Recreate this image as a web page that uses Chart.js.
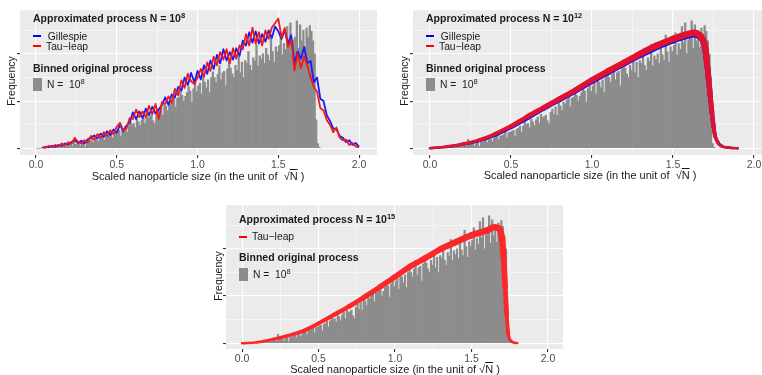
<!DOCTYPE html>
<html>
<head>
<meta charset="utf-8">
<script src="https://cdn.jsdelivr.net/npm/chart.js@4.4.1/dist/chart.umd.min.js"></script>
<style>
  html, body { margin: 0; padding: 0; background: #fff; }
  body { width: 762px; height: 375px; position: relative; overflow: hidden; }
  .box { position: absolute; }
  .t { position: absolute; font-family: 'Liberation Sans', Arial, sans-serif; white-space: pre; color: #1a1a1a; line-height: 12px; z-index: 5; }
  .ttl { font-weight: bold; font-size: 10.5px; }
  .lab { font-size: 10.3px; }
  .sup { font-size: 7.5px; position: relative; top: -4px; }
  .axt { font-size: 11px; transform: translateX(-50%); }
  .yt { font-size: 10.5px; transform: translate(-50%, -50%) rotate(-90deg); }
  .key { position: absolute; z-index: 5; }
  .ov { text-decoration: overline; }
</style>
</head>
<body>
<div class="box" style="left:0;top:0;width:380px;height:190px"><canvas id="c1"></canvas></div>
<div class="box" style="left:393px;top:0;width:400px;height:190px"><canvas id="c2"></canvas></div>
<div class="box" style="left:206px;top:195px;width:360px;height:180px"><canvas id="c3"></canvas></div>

<!-- panel 1 legend -->
<div class="t ttl" style="left:33px;top:12px">Approximated process N = 10<span class="sup">8</span></div>
<div class="key" style="left:33px;top:35px;width:8px;height:2px;background:#0000ff"></div>
<div class="t lab" style="left:45px;top:31px"> Gillespie</div>
<div class="key" style="left:33px;top:45px;width:8px;height:2px;background:#ff0000"></div>
<div class="t lab" style="left:46px;top:41px">Tau−leap</div>
<div class="t ttl" style="left:33px;top:62px">Binned original process</div>
<div class="key" style="left:33px;top:78px;width:9px;height:13px;background:#8c8c8c"></div>
<div class="t lab" style="left:47px;top:79px">N =  10<span class="sup">8</span></div>
<div class="t axt" style="left:198px;top:170px">Scaled nanoparticle size (in the unit of  √<span class="ov">N</span> )</div>
<div class="t yt" style="left:11px;top:81px">Frequency</div>

<!-- panel 2 legend -->
<div class="t ttl" style="left:426px;top:12px">Approximated process N = 10<span class="sup">12</span></div>
<div class="key" style="left:426px;top:35px;width:8px;height:2px;background:#0000ff"></div>
<div class="t lab" style="left:438px;top:31px"> Gillespie</div>
<div class="key" style="left:426px;top:45px;width:8px;height:2px;background:#ff0000"></div>
<div class="t lab" style="left:439px;top:41px">Tau−leap</div>
<div class="t ttl" style="left:426px;top:62px">Binned original process</div>
<div class="key" style="left:426px;top:78px;width:9px;height:13px;background:#8c8c8c"></div>
<div class="t lab" style="left:440px;top:79px">N =  10<span class="sup">8</span></div>
<div class="t axt" style="left:590px;top:169px">Scaled nanoparticle size (in the unit of  √<span class="ov">N</span> )</div>
<div class="t yt" style="left:404px;top:81px">Frequency</div>

<!-- panel 3 legend -->
<div class="t ttl" style="left:239px;top:213px">Approximated process N = 10<span class="sup">15</span></div>
<div class="key" style="left:239px;top:236px;width:8px;height:2px;background:#ff0000"></div>
<div class="t lab" style="left:252px;top:231px">Tau−leap</div>
<div class="t ttl" style="left:239px;top:251px">Binned original process</div>
<div class="key" style="left:239px;top:268px;width:9px;height:13px;background:#8c8c8c"></div>
<div class="t lab" style="left:253px;top:269px">N =  10<span class="sup">8</span></div>
<div class="t axt" style="left:395px;top:363px">Scaled nanoparticle size (in the unit of √<span class="ov">N</span> )</div>
<div class="t yt" style="left:218px;top:276px">Frequency</div>

<script>
// tick positions (major every 0.5 / 100, minor in between)
const xTicks = [0, 0.25, 0.5, 0.75, 1, 1.25, 1.5, 1.75, 2];
const yTicks = [0, 50, 100, 150, 200, 250];

// binned original process, N = 1e8 (bins of 0.01 starting at 0)
const histStart = 0;
const histStep = 0.01;
const histCounts = [
  0, 0, 0, 1, 1, 1, 1, 2, 2, 2,
  2, 3, 3, 3, 4, 3, 4, 5, 5, 6,
  6, 7, 4, 19, 8, 9, 10, 5, 11, 12,
  3, 13, 14, 15, 22, 12, 18, 19, 14, 21,
  23, 30, 18, 26, 27, 29, 35, 22, 33, 34,
  36, 38, 26, 40, 42, 47, 34, 47, 56, 50,
  52, 44, 62, 56, 48, 60, 66, 52, 72, 65,
  67, 70, 58, 52, 76, 83, 72, 88, 70, 95,
  90, 80, 98, 94, 102, 112, 88, 106, 108, 120,
  112, 100, 110, 118, 130, 121, 98, 126, 140, 120,
  132, 138, 115, 152, 140, 128, 145, 118, 150, 162,
  150, 140, 157, 175, 145, 160, 163, 132, 168, 185,
  170, 158, 150, 176, 165, 195, 160, 182, 150, 186,
  180, 205, 176, 165, 192, 185, 220, 175, 196, 188,
  200, 180, 212, 198, 186, 240, 205, 182, 215, 205,
  218, 245, 198, 222, 210, 258, 224, 266, 200, 230,
  236, 270, 212, 262, 228, 250, 214, 255, 236, 260,
  248, 228, 200, 60, 10, 2
];

// N = 1e8 simulations, points every 0.02 from 0.04
const simStart = 0.04;
const simStep = 0.02;
const gillespie8 = [
  1, 3, 2, 5, 3, 7, 5, 10, 8, 13,
  17, 11, 16, 10, 19, 22, 27, 21, 31, 24,
  36, 28, 40, 33, 50, 36, 48, 54, 76, 62,
  78, 64, 84, 70, 88, 74, 82, 92, 108, 92,
  114, 108, 130, 122, 150, 134, 160, 140, 164, 146,
  176, 158, 186, 168, 198, 180, 210, 186, 204, 188,
  212, 196, 228, 218, 246, 224, 248, 222, 242, 226,
  250, 234, 258, 248, 232, 250, 222, 240, 180, 205,
  190, 215, 180, 185, 140, 150, 105, 100, 70, 58,
  42, 40, 26, 22, 13, 17, 7, 11, 3
];
const tauleap8 = [
  2, 1, 5, 2, 7, 4, 10, 6, 13, 9,
  22, 13, 10, 17, 12, 26, 18, 30, 22, 34,
  26, 38, 30, 46, 54, 38, 42, 64, 62, 82,
  66, 78, 66, 90, 72, 94, 62, 98, 94, 110,
  96, 126, 112, 144, 128, 158, 142, 136, 150, 168,
  152, 182, 164, 194, 176, 204, 188, 210, 180, 212,
  190, 218, 210, 242, 218, 256, 222, 246, 218, 250,
  232, 256, 265, 275, 235, 255, 215, 230, 165, 200,
  170, 195, 175, 150, 130, 120, 85, 80, 60, 50,
  34, 44, 22, 17, 18, 7, 11, 4, 2
];

// N = 1e12 simulations
const x12 = [0, 0.1, 0.2, 0.3, 0.4, 0.5, 0.6, 0.7, 0.8, 0.9, 1.0, 1.1, 1.2, 1.3, 1.4, 1.5, 1.55, 1.6, 1.63, 1.65, 1.67, 1.69, 1.7, 1.71, 1.72, 1.73, 1.74, 1.75, 1.76, 1.78, 1.8, 1.85, 1.9];
const gillespie12 = [0, 3, 8, 16, 28, 45, 64, 84, 103, 122, 142, 161, 180, 198, 215, 229, 235, 240, 242, 240, 236, 224, 208, 180, 146, 110, 76, 46, 26, 11, 5, 1, 0];
const tauleap12 = [0, 3, 9, 17, 30, 47, 67, 86, 105, 124, 145, 164, 182, 201, 218, 232, 238, 243, 245, 243, 238, 225, 210, 180, 145, 110, 75, 45, 25, 10, 4, 1, 0];

// N = 1e15 simulation
const x15 = [0, 0.1, 0.2, 0.3, 0.4, 0.5, 0.6, 0.7, 0.8, 0.9, 1.0, 1.1, 1.2, 1.3, 1.4, 1.5, 1.6, 1.65, 1.68, 1.7, 1.71, 1.72, 1.73, 1.74, 1.76, 1.78, 1.8];
const tauleap15 = [0, 2, 8, 16, 26, 42, 60, 78, 98, 119, 141, 163, 181, 200, 215, 229, 239, 246, 243, 220, 180, 120, 60, 20, 4, 1, 0];

const FONT = "'Liberation Sans', Arial, sans-serif";

const panelBg = {
  id: 'panelBg',
  beforeDraw(chart) {
    const a = chart.chartArea;
    const c = chart.ctx;
    c.save();
    c.fillStyle = '#ebebeb';
    c.fillRect(a.left, a.top, a.right - a.left, a.bottom - a.top);
    c.restore();
  }
};

function pts(xs, ys) {
  return ys.map((y, i) => ({ x: xs[i], y: y }));
}
function histData() {
  return histCounts.map((v, i) => ({ x: histStart + histStep * (i + 0.5), y: v }));
}
function simData(vals) {
  return vals.map((v, i) => ({ x: +(simStart + simStep * i).toFixed(2), y: v }));
}

function makePanel(id, datasets, p) {
  new Chart(document.getElementById(id), {
    type: 'bar',
    data: { datasets: datasets },
    options: {
      responsive: true,
      maintainAspectRatio: false,
      animation: false,
      layout: { padding: { top: p.padTop, right: p.padRight, left: 0, bottom: 0 } },
      plugins: { legend: { display: false }, tooltip: { enabled: false } },
      scales: {
        x: {
          type: 'linear', min: p.xmin, max: p.xmax, offset: false,
          afterBuildTicks: s => { s.ticks = xTicks.map(v => ({ value: v })); },
          afterFit: s => { s.height = p.xh; },
          border: { display: false },
          grid: {
            offset: false,
            color: '#ffffff',
            lineWidth: c => (c.tick && c.tick.value % 0.5 === 0) ? 1.1 : 0.5,
            tickColor: c => (c.tick && c.tick.value % 0.5 === 0) ? '#333333' : 'rgba(0,0,0,0)',
            tickLength: 3
          },
          ticks: {
            autoSkip: false, maxRotation: 0, padding: 1,
            color: '#4d4d4d', font: { family: FONT, size: 10.5 },
            callback: v => (v % 0.5 === 0) ? v.toFixed(1) : ''
          }
        },
        y: {
          type: 'linear', min: p.ymin, max: p.ymax,
          afterBuildTicks: s => { s.ticks = yTicks.map(v => ({ value: v })); },
          afterFit: s => { s.width = 20; },
          border: { display: false },
          grid: {
            color: '#ffffff',
            lineWidth: c => (c.tick && c.tick.value % 100 === 0) ? 1.1 : 0.5,
            tickColor: c => (c.tick && c.tick.value % 100 === 0) ? '#333333' : 'rgba(0,0,0,0)',
            tickLength: 3
          },
          ticks: { callback: () => '' }
        }
      }
    },
    plugins: [panelBg]
  });
}

const histSet = () => ({
  type: 'bar', data: histData(), backgroundColor: '#8c8c8c',
  barPercentage: 1, categoryPercentage: 1, grouped: false, order: 3
});
const lineSet = (data, color, w, ord) => ({
  type: 'line', data: data, borderColor: color, borderWidth: w,
  pointRadius: 0, fill: false, order: ord, tension: 0,
  borderJoinStyle: 'round'
});
// thick noisy band: thinner where the curve is low
const bandSet = (data, color, ord) => ({
  type: 'line', data: data, borderColor: color, borderWidth: 5,
  pointRadius: 0, fill: false, order: ord,
  cubicInterpolationMode: 'monotone',
  borderCapStyle: 'round', borderJoinStyle: 'round',
  segment: {
    borderWidth: c => 2.2 + 4.3 * Math.min(1, Math.sqrt(Math.max(0, (c.p0.parsed.y + c.p1.parsed.y) / 2) / 240))
  }
});

makePanel('c1', [
  histSet(),
  lineSet(simData(gillespie8), '#1a1aff', 1.8, 2),
  lineSet(simData(tauleap8), '#f21818', 1.8, 1)
], { padTop: 6, padRight: 3, xh: 35, xmin: -0.099, xmax: 2.111, ymin: -14.4, ymax: 292.8 });

makePanel('c2', [
  histSet(),
  bandSet(pts(x12, gillespie12), '#1515ee', 2),
  bandSet(pts(x12, tauleap12), '#e2122f', 1)
], { padTop: 6, padRight: 3, xh: 35, xmin: -0.105, xmax: 2.222, ymin: -14.4, ymax: 292.8 });

makePanel('c3', [
  histSet(),
  bandSet(pts(x15, tauleap15), '#fa2828', 1)
], { padTop: 6, padRight: 3, xh: 26, xmin: -0.105, xmax: 2.098, ymin: -12.4, ymax: 292.8 });
</script>
</body>
</html>
